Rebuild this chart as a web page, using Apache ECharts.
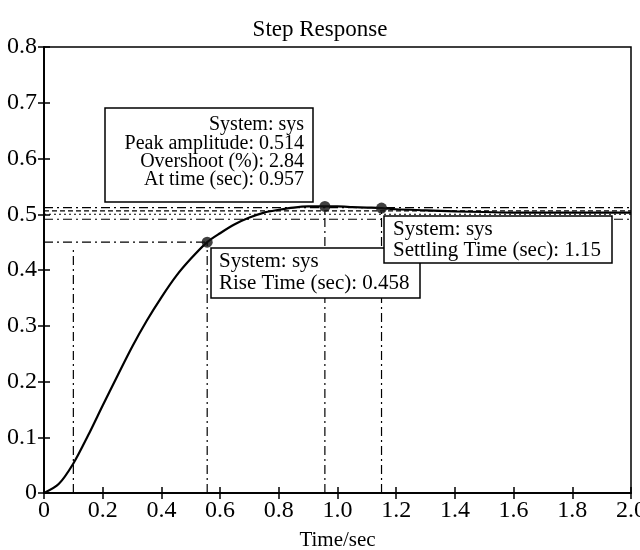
<!DOCTYPE html>
<html><head><meta charset="utf-8">
<script src="https://cdn.jsdelivr.net/npm/echarts@6/dist/echarts.min.js"></script>
<style>html,body{margin:0;padding:0;background:#fff}#c{width:640px;height:550px}</style>
</head><body><div id="c"></div>
<script>
// Step response samples
const timeSec = [0,0.05,0.1,0.15,0.2,0.25,0.3,0.35,0.4,0.45,0.5,0.556,0.6,0.65,0.7,0.75,0.8,0.85,0.9,0.957,1.0,1.05,1.1,1.15,1.2,1.3,1.4,1.5,1.6,1.7,1.8,1.9,2.0];
const amplitude = [0,0.016,0.053,0.103,0.157,0.21,0.262,0.309,0.351,0.389,0.42,0.45,0.466,0.482,0.494,0.503,0.508,0.512,0.514,0.514,0.514,0.513,0.512,0.511,0.509,0.507,0.505,0.504,0.503,0.503,0.503,0.503,0.503];
// characteristic points (rise, peak, settling)
const keyTime = [0.556, 0.957, 1.15];
const keyAmp = [0.45, 0.514, 0.511];
// horizontal reference levels across the plot
const hLevels = [0.512, 0.506, 0.5, 0.491];
const hStyles = ['dashdot','dashed','dotted','dashdot'];
// rise-time level line
const riseLevel = 0.45;
const riseSpan = [0, 0.556];
// vertical reference lines
const vTimes = [0.1, 0.556, 0.957, 1.15];
const vTops = [0.44, 0.45, 0.514, 0.511];
// axes
const xMin = 0, xMax = 2, xStep = 0.2;
const yMin = 0, yMax = 0.8, yStep = 0.1;
const titleText = 'Step Response';
const xName = 'Time/sec';
const boxPeak = ['System: sys','Peak amplitude: 0.514','Overshoot (%): 2.84','At time (sec): 0.957'];
const boxRise = ['System: sys','Rise Time (sec): 0.458'];
const boxSettle = ['System: sys','Settling Time (sec): 1.15'];

const FONT = 'Liberation Serif';
const dashMap = {dashdot:[9,4,2,4], dashed:[5,3], dotted:[2,3]};

const series = [];
hLevels.forEach((v,i)=>{
  series.push({type:'line', symbol:'none', silent:true, z:2,
    data:[[xMin,v],[xMax,v]], lineStyle:{color:'#000', width:1.2, type:dashMap[hStyles[i]]}});
});
series.push({type:'line', symbol:'none', silent:true, z:2,
  data:[[riseSpan[0],riseLevel],[riseSpan[1],riseLevel]], lineStyle:{color:'#000', width:1.2, type:dashMap.dashdot}});
vTimes.forEach((t,i)=>{
  series.push({type:'line', symbol:'none', silent:true, z:2,
    data:[[t,0],[t,vTops[i]]], lineStyle:{color:'#000', width:1.2, type:dashMap.dashdot}});
});
series.push({type:'line', symbol:'none', smooth:0.3, z:3,
  data: timeSec.map((t,i)=>[t, amplitude[i]]), lineStyle:{color:'#000', width:2.2}});
series.push({type:'scatter', symbol:'circle', symbolSize:11, z:4,
  data: keyTime.map((t,i)=>[t,keyAmp[i]]), itemStyle:{color:'#111'}});

function axisCommon(){
  return {axisLine:{show:true, lineStyle:{color:'#000', width:1.5}},
    axisTick:{show:true, inside:true, length:6, lineStyle:{color:'#000', width:1.5}},
    splitLine:{show:false}};
}
const fmtX = v => v===0 ? '0' : v.toFixed(1);
const fmtY = v => v===0 ? '0' : v.toFixed(1);

function box(x, y, w, h, tx, ty, lines, size, lh, align){
  return [
    {type:'rect', z:100, zlevel:1, shape:{x:x, y:y, width:w, height:h}, style:{fill:'#fff', stroke:'#000', lineWidth:1.5}},
    {type:'text', z:101, zlevel:1, x:tx, y:ty, style:{text:lines.join('\n'), font:size+'px "Liberation Serif"', fill:'#000', textAlign:align, textVerticalAlign:'top', lineHeight:lh}}
  ];
}

const option = {
  backgroundColor:'#fff',
  animation:false,
  title:{text:titleText, left:'center', top:13, textStyle:{fontFamily:FONT, fontSize:23, fontWeight:'normal', color:'#000'}},
  grid:{left:44, right:9, top:47, bottom:57, outerBoundsMode:'none', containLabel:false, show:true, borderColor:'#000', borderWidth:1.5},
  xAxis:[
    Object.assign(axisCommon(), {type:'value', min:xMin, max:xMax, interval:xStep, position:'bottom',
      name:xName, nameLocation:'middle', nameGap:37,
      nameTextStyle:{fontFamily:FONT, fontSize:21, color:'#000'},
      axisLabel:{fontFamily:FONT, fontSize:24, color:'#000', margin:6, formatter:fmtX}}),
    Object.assign(axisCommon(), {type:'value', min:xMin, max:xMax, interval:xStep, position:'top',
      axisLabel:{show:false}})
  ],
  yAxis:[
    Object.assign(axisCommon(), {type:'value', min:yMin, max:yMax, interval:yStep, position:'left',
      axisLabel:{fontFamily:FONT, fontSize:24, color:'#000', margin:7, formatter:fmtY}}),
    Object.assign(axisCommon(), {type:'value', min:yMin, max:yMax, interval:yStep, position:'right',
      axisLabel:{show:false}})
  ],
  series: series,
  graphic: [].concat(
    box(105,108,208,94, 304,116, boxPeak, 20, 18.3, 'right'),
    box(211,248,209,50, 219,251, boxRise, 21, 21.6, 'left'),
    box(384,216,228,47, 393,219.5, boxSettle, 21, 20.7, 'left')
  )
};
const chart = echarts.init(document.getElementById('c'), null, {renderer:'canvas'});
chart.setOption(option);
</script></body></html>
